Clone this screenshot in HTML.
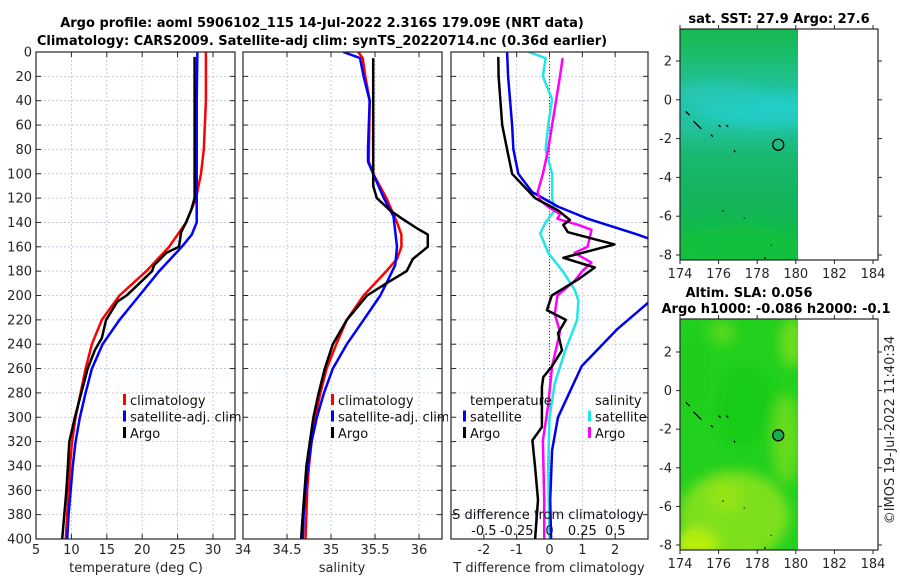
<!DOCTYPE html>
<html><head><meta charset="utf-8">
<style>
html,body{margin:0;padding:0;background:#fff;}
svg{display:block;font-family:"DejaVu Sans","Liberation Sans",sans-serif;}
</style></head>
<body>
<svg id="fig" width="900" height="580" viewBox="0 0 900 580" xmlns="http://www.w3.org/2000/svg">
<defs>
<clipPath id="c1"><rect x="36" y="52" width="199" height="487"/></clipPath>
<clipPath id="c2"><rect x="243" y="52" width="199" height="487"/></clipPath>
<clipPath id="c3"><rect x="451" y="52" width="197" height="487"/></clipPath>
<clipPath id="cleg2"><rect x="243" y="380" width="205" height="70"/></clipPath>
<clipPath id="cm1"><rect x="680" y="29" width="118" height="231"/></clipPath>
<clipPath id="cm2"><rect x="680" y="319" width="118" height="231"/></clipPath>
<filter id="blur" x="-20%" y="-20%" width="140%" height="140%"><feGaussianBlur stdDeviation="6"/></filter>
<linearGradient id="sstbase" x1="0" y1="0" x2="0" y2="1">
<stop offset="0" stop-color="#16b84e"/><stop offset="0.15" stop-color="#1cbe78"/><stop offset="0.3" stop-color="#24c4a8"/><stop offset="0.42" stop-color="#22c2a0"/><stop offset="0.55" stop-color="#18b870"/><stop offset="0.75" stop-color="#13b45a"/><stop offset="1" stop-color="#14c040"/></linearGradient>
</defs>
<g id="texts">
<text x="322" y="27" font-size="13" font-weight="bold" text-anchor="middle">Argo profile: aoml 5906102_115 14-Jul-2022 2.316S 179.09E (NRT data)</text>
<text x="322" y="45" font-size="13" font-weight="bold" text-anchor="middle">Climatology: CARS2009. Satellite-adj clim: synTS_20220714.nc (0.36d earlier)</text>
<text x="136" y="572" font-size="13" text-anchor="middle" fill="#262626">temperature (deg C)</text>
<text x="342" y="572" font-size="13" text-anchor="middle" fill="#262626">salinity</text>
<text x="549" y="572" font-size="13" text-anchor="middle" fill="#262626">T difference from climatology</text>
<text x="779" y="23" font-size="13" font-weight="bold" text-anchor="middle">sat. SST: 27.9 Argo: 27.6</text>
<text x="749" y="297" font-size="13" font-weight="bold" text-anchor="middle">Altim. SLA: 0.056</text>
<text x="776" y="313" font-size="13" font-weight="bold" text-anchor="middle">Argo h1000: -0.086 h2000: -0.1</text>
<text x="0" y="0" font-size="13" text-anchor="middle" fill="#262626" transform="translate(894,430) rotate(-90)">©IMOS 19-Jul-2022 11:40:34</text>
</g>
</svg>
<script>
// ---- data ----
const tDepthClim=[0,40,80,100,120,140,160,180,200,220,240,260,280,300,320,340,360,380,400];
const tClim=[29.0,29.0,28.7,28.3,27.6,26.2,23.8,20.6,16.8,14.3,12.9,12.0,11.3,10.6,10.1,9.8,9.6,9.4,9.2];
const tDepthSat=[0,40,80,120,140,150,160,180,200,220,240,260,280,300,320,340,360,380,400];
const tSat=[27.8,27.7,27.7,27.7,27.7,27.0,25.6,22.4,19.6,16.8,14.4,12.9,12.0,11.2,10.6,10.2,9.9,9.6,9.4];
const tDepthArgo=[4,40,80,120,130,140,148,160,165,175,180,190,200,205,220,235,245,260,280,300,320,340,360,380,400];
const tArgo=[27.4,27.4,27.4,27.4,26.9,26.2,25.5,25.2,23.4,21.7,21.4,19.6,17.8,16.5,14.9,14.3,13.3,12.3,11.4,10.5,9.7,9.5,9.3,9.0,8.7];
const sDepthClim=[0,5,20,40,90,100,120,140,150,160,170,180,200,220,240,260,280,300,320,340,360,380,400];
const sClim=[35.31,35.36,35.39,35.44,35.43,35.48,35.63,35.75,35.80,35.80,35.75,35.63,35.37,35.18,35.06,34.95,34.88,34.82,34.78,34.75,34.73,34.72,34.71];
const sDepthSat=[0,5,20,40,60,80,90,100,120,135,160,175,190,200,220,240,260,280,300,320,340,360,380,400];
const sSat=[35.14,35.33,35.37,35.44,35.43,35.42,35.42,35.48,35.60,35.71,35.75,35.73,35.63,35.56,35.37,35.18,35.02,34.92,34.84,34.78,34.74,34.71,34.69,34.68];
const sDepthArgo=[5,40,100,110,120,130,137,145,150,160,170,180,190,200,220,240,260,280,300,320,340,360,380,400];
const sArgo=[35.48,35.48,35.48,35.48,35.52,35.67,35.81,35.98,36.10,36.10,35.93,35.86,35.63,35.41,35.18,35.02,34.93,34.86,34.80,34.76,34.72,34.70,34.68,34.66];
const dDepthTArgo=[4,20,60,80,100,120,130,138,142,148,158,169,177,187,200,212,220,231,245,258,267,275,308,319,341,368,400];
const dTArgo=[-1.56,-1.55,-1.44,-1.29,-1.14,-0.44,0.26,0.62,0.42,0.56,1.98,0.42,1.38,0.86,0.07,-0.08,0.5,0.26,0.38,0.08,-0.19,-0.23,-0.23,-0.52,-0.44,-0.35,-0.44];
const dDepthTSat=[0,20,60,80,100,115,127,137,150,153,170,190,206,228,258,300,327,368,400];
const dTSat=[-1.29,-1.26,-1.14,-1.1,-0.95,-0.53,0.26,1.17,2.68,3.0,4.5,4.5,3.0,2.05,0.98,0.26,0.08,0.02,0.05];
const dDepthSArgo=[5,20,60,80,100,115,122,128,133,137,142,146,160,165,173,180,188,200,215,230,258,290,319,368,400];
const dSArgo=[0.1,0.08,0.02,-0.01,-0.05,-0.09,-0.07,0,0.08,0.06,0.22,0.32,0.29,0.19,0.32,0.25,0.19,0.06,0.04,0.08,0.02,-0.01,-0.05,-0.04,-0.04];
const dDepthSSat=[0,5,20,39,60,80,100,120,130,140,149,165,180,195,204,220,245,272,300,341,400];
const dSSat=[-0.16,-0.03,-0.05,0.02,-0.01,-0.03,0.02,0.02,0.04,-0.03,-0.07,-0.01,0.1,0.19,0.22,0.21,0.12,0.04,0.0,-0.01,0.0];
const depthTicks=[0,20,40,60,80,100,120,140,160,180,200,220,240,260,280,300,320,340,360,380,400];
const tTicks=[5,10,15,20,25,30];
const sTicks=[34,34.5,35,35.5,36];
const dTTicks=[-2,-1,0,1,2];
const dSTicks=[-0.5,-0.25,0,0.25,0.5];
const lonTicks=[174,176,178,180,182,184];
const latTicks=[2,0,-2,-4,-6,-8];
const argoLon=179.09, argoLat=-2.316;

// ---- helpers ----
const NS='http://www.w3.org/2000/svg';
const svg=document.getElementById('fig');
function mk(tag,attrs,parent){const e=document.createElementNS(NS,tag);for(const k in attrs)e.setAttribute(k,attrs[k]);(parent||svg).appendChild(e);return e;}
const Y0=52,Y1=539;
const yD=d=>Y0+(d/400)*(Y1-Y0);
function lin(d0,d1,p0,p1){return v=>p0+(v-d0)/(d1-d0)*(p1-p0);}
const xT=lin(5,30,36,213);
const xS=lin(34,36,243,419);
const xDT=lin(-3,3,451,648);
const xDS=v=>xDT(v*4);

function panel(x0,x1,xs,ticks,labels,name,yLabels){
  const g=mk('g',{});
  
  
  ticks.forEach(t=>{const x=xs(t);
    mk('line',{x1:x,y1:Y0,x2:x,y2:Y1,stroke:'#b8c0dc','stroke-width':0.8,'stroke-dasharray':'2,2'},g);
    mk('line',{x1:x,y1:Y1,x2:x,y2:Y1-5,stroke:'#262626'},g);
    mk('line',{x1:x,y1:Y0,x2:x,y2:Y0+5,stroke:'#262626'},g);
  });
  depthTicks.forEach(d=>{const y=yD(d);
    mk('line',{x1:x0,y1:y,x2:x1,y2:y,stroke:'#b8c0dc','stroke-width':0.8,'stroke-dasharray':'2,2'},g);
    mk('line',{x1:x0,y1:y,x2:x0+5,y2:y,stroke:'#262626'},g);
    mk('line',{x1:x1,y1:y,x2:x1-5,y2:y,stroke:'#262626'},g);
    if(yLabels){const t=mk('text',{x:x0-4,y:y+4.5,'font-size':13,'text-anchor':'end',fill:'#262626'},g);t.textContent=d;}
  });
  if(labels){ticks.forEach((t,i)=>{const tx=mk('text',{x:xs(t),y:554,'font-size':13,'text-anchor':'middle',fill:'#262626'},g);tx.textContent=labels[i];});}
  return g;
}
function curve(xs,ds,vs,color,w,clip,name){
  const pts=ds.map((d,i)=>xs(vs[i]).toFixed(1)+','+yD(d).toFixed(1)).join(' ');
  const p=mk('polyline',{points:pts,fill:'none',stroke:color,'stroke-width':w,'stroke-linejoin':'round','clip-path':'url(#'+clip+')'});
  
  
}
function box(x0,y0,x1,y1){mk('rect',{x:x0,y:y0,width:x1-x0,height:y1-y0,fill:'none',stroke:'#262626','stroke-width':1.2});}

// Panel 1
panel(36,235,xT,tTicks,tTicks.map(String),'temperature-axes',true);
curve(xT,tDepthClim,tClim,'#ff0000',2.5,'c1','temp-climatology-line');
curve(xT,tDepthSat,tSat,'#0000ff',2.5,'c1','temp-satellite-line');
curve(xT,tDepthArgo,tArgo,'#000000',2.5,'c1','temp-argo-line');
box(36,Y0,235,Y1);
// Panel 2
panel(243,442,xS,sTicks,sTicks.map(String),'salinity-axes',false);
curve(xS,sDepthClim,sClim,'#ff0000',2.5,'c2','sal-climatology-line');
curve(xS,sDepthSat,sSat,'#0000ff',2.5,'c2','sal-satellite-line');
curve(xS,sDepthArgo,sArgo,'#000000',2.5,'c2','sal-argo-line');
box(243,Y0,442,Y1);
// Panel 3
panel(451,648,xDT,dTTicks,dTTicks.map(String),'difference-axes',false);
mk('line',{x1:xDT(0),y1:Y0,x2:xDT(0),y2:Y1,stroke:'#554433','stroke-width':1,'stroke-dasharray':'1,2'});
curve(xDS,dDepthSSat,dSSat,'#22e5e5',2.5,'c3','sdiff-satellite-line');
curve(xDT,dDepthTSat,dTSat,'#0000ee',2.5,'c3','tdiff-satellite-line');
curve(xDS,dDepthSArgo,dSArgo,'#ff00ff',2.5,'c3','sdiff-argo-line');
curve(xDT,dDepthTArgo,dTArgo,'#000000',2.5,'c3','tdiff-argo-line');
box(451,Y0,648,Y1);
{const t=mk('text',{x:548,y:519,'font-size':13,'text-anchor':'middle',fill:'#111'});t.textContent='S difference from climatology';
 
 
 dSTicks.forEach((v,i)=>{const tx=mk('text',{x:xDS(v),y:535,'font-size':13,'text-anchor':'middle',fill:'#111'});tx.textContent=String(v);});}

// Legends
function legend(x,y,items,clip,name){
  const g=mk('g',clip?{'clip-path':'url(#'+clip+')'}:{});
  
  
  items.forEach((it,i)=>{const yy=y+i*16.5;
    if(it[1]) mk('rect',{x:x-7,y:yy-11,width:3,height:11,fill:it[1]},g);
    const t=mk('text',{x:x,y:yy,'font-size':13,fill:'#111'},g);t.textContent=it[0];});
}
legend(130,405,[['climatology','#ff0000'],['satellite-adj. clim','#0000ff'],['Argo','#000000']],null,'temperature-legend');
legend(338,405,[['climatology','#ff0000'],['satellite-adj. clim','#0000ff'],['Argo','#000000']],'cleg2','salinity-legend');
legend(470,405,[['temperature',null],['satellite','#0000ff'],['Argo','#000000']],null,'tdiff-legend');
legend(595,405,[['salinity',null],['satellite','#22e5e5'],['Argo','#ff00ff']],null,'sdiff-legend');

// Maps
function map(y0,y1,yTop,yBot,kind,name){
  const xL=lin(174,184,680,873);
  const yL=lin(2,-8,yTop,yBot);
  const g=mk('g',{});
  
  
  const x0=680,x1=798;
  const fg=mk('g',{'clip-path':kind==='sst'?'url(#cm1)':'url(#cm2)'},g);
  if(kind==='sst'){
    mk('rect',{x:x0,y:y0,width:x1-x0,height:y1-y0,fill:'url(#sstbase)'},fg);
    const bl=mk('g',{filter:'url(#blur)'},fg);
    mk('ellipse',{cx:xL(178.5),cy:yL(-0.5),rx:70,ry:16,fill:'#22d0cc',opacity:0.8},bl);
    mk('ellipse',{cx:xL(176),cy:yL(0.2),rx:40,ry:14,fill:'#26c8b8',opacity:0.7},bl);
    mk('ellipse',{cx:xL(177),cy:yL(-7.5),rx:60,ry:20,fill:'#14c03c',opacity:0.8},bl);
  }else{
    mk('rect',{x:x0,y:y0,width:x1-x0,height:y1-y0,fill:'#22d01e'},fg);
    const bl=mk('g',{filter:'url(#blur)'},fg);
    mk('ellipse',{cx:xL(176.8),cy:yL(-6.5),rx:55,ry:45,fill:'#7ee01c'},bl);
    mk('ellipse',{cx:xL(179.5),cy:yL(-2.5),rx:14,ry:45,fill:'#66da1e'},bl);
    mk('ellipse',{cx:xL(179.8),cy:yL(2.5),rx:12,ry:25,fill:'#6edc1e'},bl);
    mk('ellipse',{cx:xL(176.2),cy:yL(3),rx:12,ry:12,fill:'#5ad81e'},bl);
    mk('ellipse',{cx:xL(174.8),cy:yL(-8),rx:22,ry:16,fill:'#b8ee10'},bl);
    mk('ellipse',{cx:xL(176.3),cy:yL(-5.5),rx:16,ry:14,fill:'#96e418'},bl);
    mk('ellipse',{cx:xL(177.3),cy:yL(-0.8),rx:28,ry:40,fill:'#18cc18'},bl);
    mk('ellipse',{cx:xL(174.8),cy:yL(1),rx:12,ry:40,fill:'#1ccc1a'},bl);
  }
  // islands
  [[174.3,-0.6,174.5,-0.8],[174.7,-1.1,175.1,-1.5],[175.6,-1.8,175.7,-1.9],[176,-1.3,176.1,-1.4],[176.4,-1.3,176.5,-1.4],[176.8,-2.6,176.85,-2.7],[176.2,-5.7,176.25,-5.75],[177.3,-6.1,177.35,-6.1],[178.7,-7.5,178.75,-7.5],[178.4,-8.1,178.4,-8.2]].forEach(c=>{
    mk('line',{x1:xL(c[0]),y1:yL(c[1]),x2:xL(c[2]),y2:yL(c[3]),stroke:'#000','stroke-width':1.3},g);});
  const ci=mk('circle',{cx:xL(argoLon),cy:yL(argoLat),r:5.5,fill:kind==='sst'?'none':'#16b050',stroke:'#000','stroke-width':1.3},g);
  
  
  mk('rect',{x:680,y:y0,width:198,height:y1-y0,fill:'none',stroke:'#262626','stroke-width':1.2},g);
  lonTicks.forEach(v=>{const x=xL(v);
    mk('line',{x1:x,y1:y1,x2:x,y2:y1+4,stroke:'#262626'},g);
    mk('line',{x1:x,y1:y0,x2:x,y2:y0-4,stroke:'#262626'},g);
    const t=mk('text',{x:x,y:y1+18,'font-size':13,'text-anchor':'middle',fill:'#262626'},g);t.textContent=v;});
  latTicks.forEach(v=>{const y=yL(v);
    mk('line',{x1:680,y1:y,x2:676,y2:y,stroke:'#262626'},g);
    mk('line',{x1:878,y1:y,x2:882,y2:y,stroke:'#262626'},g);
    const t=mk('text',{x:672,y:y+4.5,'font-size':13,'text-anchor':'end',fill:'#262626'},g);t.textContent=v;});
}
map(29,260,61,255,'sst','sst-map');
map(319,550,352,545,'sla','sla-map');
</script>
</body></html>
